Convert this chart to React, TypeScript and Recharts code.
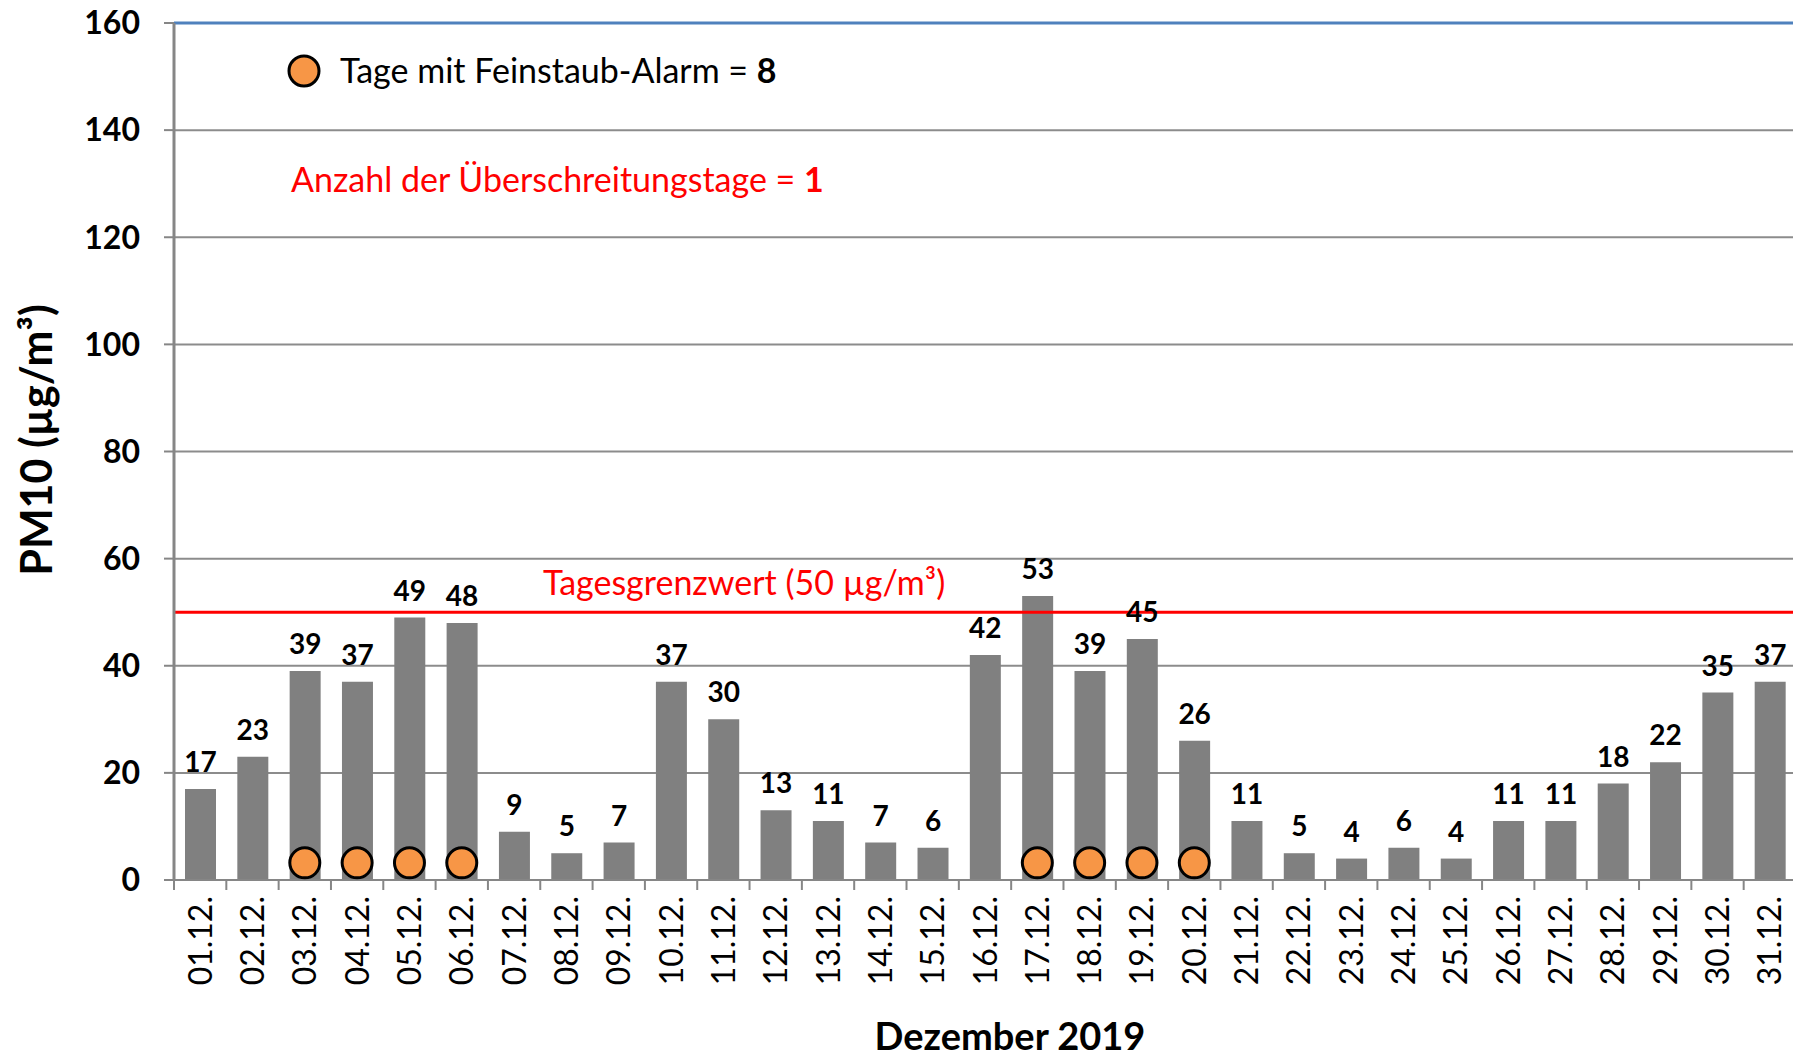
import React from 'react';
import { ComposedChart, Bar, Line, XAxis, YAxis, CartesianGrid, ReferenceLine, LabelList } from 'recharts';

const days = ['01.12.', '02.12.', '03.12.', '04.12.', '05.12.', '06.12.', '07.12.', '08.12.', '09.12.', '10.12.', '11.12.', '12.12.', '13.12.', '14.12.', '15.12.', '16.12.', '17.12.', '18.12.', '19.12.', '20.12.', '21.12.', '22.12.', '23.12.', '24.12.', '25.12.', '26.12.', '27.12.', '28.12.', '29.12.', '30.12.', '31.12.'];
const pm10 = [17, 23, 39, 37, 49, 48, 9, 5, 7, 37, 30, 13, 11, 7, 6, 42, 53, 39, 45, 26, 11, 5, 4, 6, 4, 11, 11, 18, 22, 35, 37];
const alarmDays = ['03.12.', '04.12.', '05.12.', '06.12.', '17.12.', '18.12.', '19.12.', '20.12.'];
const alarmMarkerLevel = 3.2;
const limitValue = 50;
const yTicks = [0, 20, 40, 60, 80, 100, 120, 140, 160];

const data = days.map((d, i) => ({
  day: d,
  pm10: pm10[i],
  alarm: alarmDays.includes(d) ? alarmMarkerLevel : null,
}));

const FONT = 'Lato';

const XTick = (props: any) => {
  const { x, y, payload } = props;
  const off = payload && payload.offset ? payload.offset : 0;
  return (
    <g>
      <line x1={x - off} y1={y} x2={x - off} y2={y + 10} stroke="#868686" strokeWidth={2} />
      <text
        x={x}
        y={y + 16}
        transform={`rotate(-90, ${x}, ${y + 16})`}
        textAnchor="end"
        dy="0.36em"
        fontFamily={FONT}
        fontSize={32}
        fill="#000"
      >
        {payload.value}
      </text>
    </g>
  );
};

const AlarmDot = (props: any) => {
  const { cx, cy, payload } = props;
  if (payload == null || payload.alarm == null || typeof cy !== 'number') return <g />;
  return <circle cx={cx} cy={cy} r={15} fill="#F79646" stroke="#000" strokeWidth={3} />;
};

export default function App() {
  return (
    <div style={{ position: 'absolute', left: 0, top: 0, width: 1793, height: 1062, overflow: 'hidden', background: '#fff' }}>
      <ComposedChart
        width={1796}
        height={1062}
        data={data}
        margin={{ top: 23, right: 0, left: 0, bottom: 0 }}
        barCategoryGap="20%"
      >
        <CartesianGrid horizontal vertical={false} stroke="#8c8c8c" strokeWidth={2} />
        <XAxis
          dataKey="day"
          height={182}
          interval={0}
          tickLine={false}
          tickSize={0}
          tickMargin={0}
          axisLine={{ stroke: '#868686', strokeWidth: 2 }}
          tick={<XTick />}
          label={{
            value: 'Dezember 2019',
            content: () => (
              <text x={1010} y={1050} textAnchor="middle" fontFamily={FONT} fontWeight="bold" fontSize={38} fill="#000">
                Dezember 2019
              </text>
            ),
          }}
        />
        <YAxis
          width={174}
          domain={[0, 160]}
          ticks={yTicks}
          interval={0}
          tickSize={10}
          tickMargin={24}
          tickLine={{ stroke: '#868686', strokeWidth: 2 }}
          axisLine={{ stroke: '#868686', strokeWidth: 3 }}
          tick={{ fontFamily: FONT, fontWeight: 'bold', fontSize: 32, fill: '#000' }}
          label={{
            value: 'PM10 (µg/m³)',
            content: () => (
              <text
                x={37}
                y={440}
                transform="rotate(-90, 37, 440)"
                textAnchor="middle"
                dy="0.36em"
                fontFamily={FONT}
                fontWeight="bold"
                fontSize={43}
                fill="#000"
              >
                PM10 (µg/m³)
              </text>
            ),
          }}
        />
        <ReferenceLine y={160} stroke="#4F81BD" strokeWidth={3} />
        <Bar dataKey="pm10" fill="#808080" barSize={31} isAnimationActive={false}>
          <LabelList
            dataKey="pm10"
            position="top"
            offset={17}
            style={{ fontFamily: FONT, fontWeight: 'bold', fontSize: 28, fill: '#000' }}
          />
        </Bar>
        <ReferenceLine y={limitValue} stroke="#FF0000" strokeWidth={3} />
        <Line
          dataKey="alarm"
          stroke="none"
          dot={<AlarmDot />}
          activeDot={false}
          connectNulls={false}
          isAnimationActive={false}
        />
      </ComposedChart>
      <svg width={1793} height={1062} style={{ position: 'absolute', left: 0, top: 0, pointerEvents: 'none' }}>
        <circle cx={304} cy={71} r={15} fill="#F79646" stroke="#000" strokeWidth={3} />
        <text x={340} y={83} fontFamily={FONT} fontSize={34} fill="#000">
          Tage mit Feinstaub-Alarm = <tspan fontWeight="bold">8</tspan>
        </text>
        <text x={291} y={192} fontFamily={FONT} fontSize={34} fill="#FF0000">
          Anzahl der Überschreitungstage = <tspan fontWeight="bold">1</tspan>
        </text>
        <text x={543} y={595} fontFamily={FONT} fontSize={34} fill="#FF0000">
          Tagesgrenzwert (50 µg/m³)
        </text>
      </svg>
    </div>
  );
}
